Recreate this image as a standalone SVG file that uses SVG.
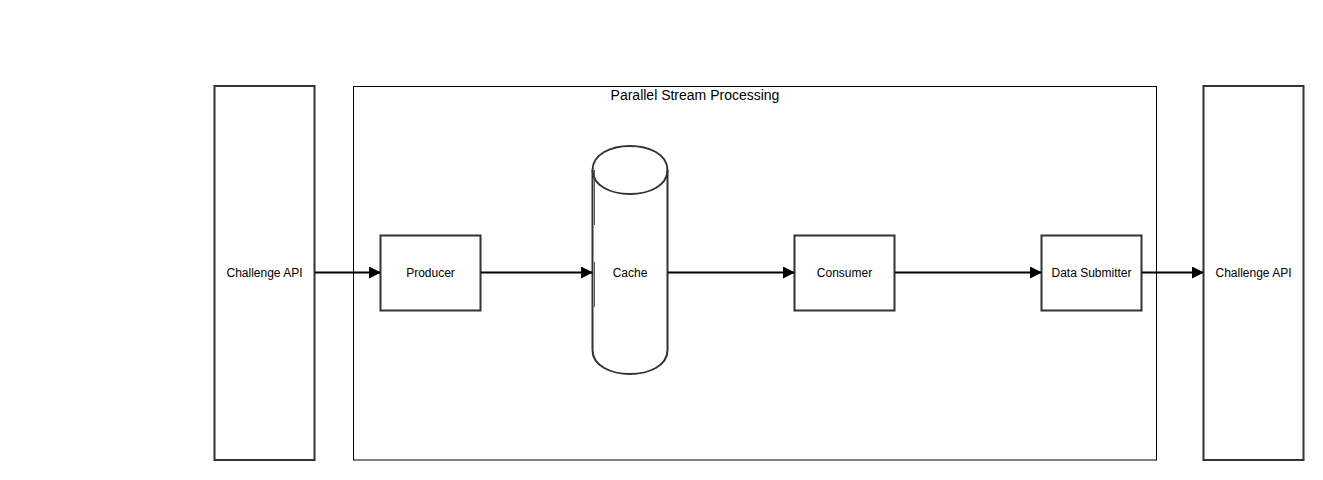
<svg xmlns="http://www.w3.org/2000/svg" width="1323" height="480" viewBox="0 0 1323 480">
<style>
.node{fill:#fff;stroke:#333;stroke-width:2}
.lbl{font-family:"Liberation Sans",Arial,Helvetica,sans-serif;font-size:12px;fill:#000;text-anchor:middle}
.edge{fill:none;stroke:#000;stroke-width:2}
</style>
<defs>
<marker id="arr" markerWidth="12" markerHeight="12" refX="11" refY="6" orient="auto" markerUnits="userSpaceOnUse">
<path d="M0,0 L12,6 L0,12 Z" fill="#000"/>
</marker>
</defs>
<rect width="1323" height="480" fill="#fff"/>
<g id="container">
<rect x="353.5" y="86.5" width="803" height="373.5" fill="none" stroke="#000" stroke-width="1"/>
<text x="695" y="99.5" class="lbl" style="font-size:14px">Parallel Stream Processing</text>
</g>
<g id="api-left">
<rect class="node" x="214.5" y="86" width="100" height="374"/>
<text class="lbl" x="264.5" y="277">Challenge API</text>
</g>
<g id="producer">
<rect class="node" x="380.5" y="235.5" width="100" height="75"/>
<text class="lbl" x="430.5" y="277">Producer</text>
</g>
<g id="cache">
<path class="node" d="M592.5,170 C592.5,138 667.5,138 667.5,170 L667.5,350 C667.5,382 592.5,382 592.5,350 Z"/>
<path d="M592.5,170 C592.5,202 667.5,202 667.5,170" fill="none" stroke="#333" stroke-width="2"/>
<path d="M594.5,170 V225 M594.5,262 V307" stroke="#333" stroke-width="0.8" fill="none"/>
<text class="lbl" x="630" y="277">Cache</text>
</g>
<g id="consumer">
<rect class="node" x="794.5" y="235.5" width="100" height="75"/>
<text class="lbl" x="844.5" y="277">Consumer</text>
</g>
<g id="submitter">
<rect class="node" x="1041.5" y="235.5" width="100" height="75"/>
<text class="lbl" x="1091.5" y="277">Data Submitter</text>
</g>
<g id="api-right">
<rect class="node" x="1203.5" y="86" width="100" height="374"/>
<text class="lbl" x="1253.5" y="277">Challenge API</text>
</g>
<g id="connectors">
<line class="edge" x1="315" y1="272.5" x2="380" y2="272.5" marker-end="url(#arr)"/>
<line class="edge" x1="481" y1="272.5" x2="592" y2="272.5" marker-end="url(#arr)"/>
<line class="edge" x1="668" y1="272.5" x2="794" y2="272.5" marker-end="url(#arr)"/>
<line class="edge" x1="895" y1="272.5" x2="1041" y2="272.5" marker-end="url(#arr)"/>
<line class="edge" x1="1142" y1="272.5" x2="1203" y2="272.5" marker-end="url(#arr)"/>
</g>
</svg>
